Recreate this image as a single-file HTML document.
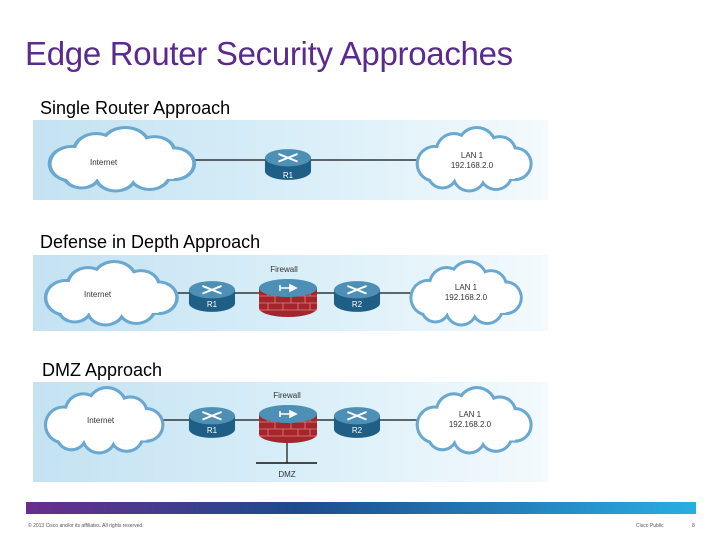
<!DOCTYPE html>
<html><head><meta charset="utf-8"><style>
body{margin:0;width:720px;height:540px;background:#fff;position:relative;overflow:hidden;font-family:"Liberation Sans",sans-serif}
.t{position:absolute;white-space:nowrap}
</style></head><body>
<div class="t" style="left:25px;top:35px;font-size:33px;color:#5b2a8e;letter-spacing:-0.3px">Edge Router Security Approaches</div>
<div class="t" style="left:40px;top:98px;font-size:18px;color:#000">Single Router Approach</div>
<div class="t" style="left:40px;top:232px;font-size:18px;color:#000">Defense in Depth Approach</div>
<div class="t" style="left:42px;top:360px;font-size:18px;color:#000">DMZ Approach</div>
<svg width="720" height="540" style="position:absolute;left:0;top:0" font-family="Liberation Sans, sans-serif">
<defs>
<linearGradient id="bg" x1="0" x2="1"><stop offset="0" stop-color="#c4e2f2"/><stop offset="0.5" stop-color="#d8eef8"/><stop offset="1" stop-color="#f4fafd"/></linearGradient>
<linearGradient id="bar" x1="0" x2="1"><stop offset="0" stop-color="#6a2d8c"/><stop offset="0.4" stop-color="#1e4a8c"/><stop offset="1" stop-color="#29aee2"/></linearGradient>
<symbol id="cloud" viewBox="-5 -5 170 90" preserveAspectRatio="none">
<g fill="#6aa8d0"><circle cx="30" cy="45" r="25"/><circle cx="55" cy="28" r="25"/><circle cx="85" cy="22" r="27"/><circle cx="115" cy="30" r="23"/><circle cx="135" cy="45" r="23"/><circle cx="110" cy="58" r="23"/><circle cx="75" cy="60" r="23"/><circle cx="40" cy="58" r="21"/></g>
<g fill="#fff"><circle cx="30" cy="45" r="21"/><circle cx="55" cy="28" r="21"/><circle cx="85" cy="22" r="23"/><circle cx="115" cy="30" r="19"/><circle cx="135" cy="45" r="19"/><circle cx="110" cy="58" r="19"/><circle cx="75" cy="60" r="19"/><circle cx="40" cy="58" r="17"/><rect x="30" y="30" width="105" height="35"/></g>
</symbol>
<symbol id="router" viewBox="0 0 50 34">
<path d="M1 10 v14 a24 9 0 0 0 48 0 v-14z" fill="#1f5f86"/>
<ellipse cx="25" cy="10" rx="24" ry="9" fill="#4d8fb5"/>
<g stroke="#fff" stroke-width="2" fill="none"><path d="M15 6 L35 14 M15 14 L35 6"/></g>
</symbol>
<symbol id="fw" viewBox="0 0 60 40">
<path d="M1 10 v20 a29 9 0 0 0 58 0 v-20z" fill="#a4262c"/>
<g stroke="#e08080" stroke-width="0.8" fill="none"><path d="M1 18 h58 M1 25 h58 M1 32 h58 M10 10v8 M25 12v6 M40 12v6 M52 10v8 M17 18v7 M33 18v7 M47 18v7 M10 25v7 M25 25v7 M40 25v7 M52 25v7"/></g>
<ellipse cx="30" cy="10" rx="29" ry="9" fill="#4d8fb5"/>
<path d="M22 10 h16 M22 7v6 M38 10 l-6 -3 v6z" stroke="#fff" stroke-width="1.6" fill="#fff"/>
</symbol>
</defs>
<rect x="33" y="120" width="515" height="80" fill="url(#bg)"/>
<rect x="33" y="255" width="515" height="76" fill="url(#bg)"/>
<rect x="33" y="382" width="515" height="100" fill="url(#bg)"/>
<!-- panel 1 -->
<line x1="190" y1="160" x2="420" y2="160" stroke="#111" stroke-width="1.2"/>
<use href="#cloud" x="38" y="126" width="165" height="68"/>
<use href="#cloud" x="408" y="126" width="130" height="68"/>
<use href="#router" x="264" y="148" width="48" height="33"/>
<text x="90" y="165" font-size="8" fill="#333">Internet</text>
<text x="472" y="158" font-size="8" fill="#333" text-anchor="middle">LAN 1</text>
<text x="472" y="168" font-size="8" fill="#333" text-anchor="middle">192.168.2.0</text>
<text x="288" y="178" font-size="8" fill="#fff" text-anchor="middle">R1</text>
<!-- panel 2 -->
<line x1="170" y1="293" x2="415" y2="293" stroke="#111" stroke-width="1.2"/>
<use href="#cloud" x="35" y="260" width="150" height="68"/>
<use href="#cloud" x="402" y="260" width="126" height="68"/>
<use href="#router" x="188" y="280" width="48" height="33"/>
<use href="#router" x="333" y="280" width="48" height="33"/>
<use href="#fw" x="258" y="277" width="60" height="42"/>
<text x="84" y="297" font-size="8" fill="#333">Internet</text>
<text x="466" y="290" font-size="8" fill="#333" text-anchor="middle">LAN 1</text>
<text x="466" y="300" font-size="8" fill="#333" text-anchor="middle">192.168.2.0</text>
<text x="212" y="307" font-size="8" fill="#fff" text-anchor="middle">R1</text>
<text x="357" y="307" font-size="8" fill="#fff" text-anchor="middle">R2</text>
<text x="284" y="272" font-size="8" fill="#333" text-anchor="middle">Firewall</text>
<!-- panel 3 -->
<line x1="160" y1="420" x2="420" y2="420" stroke="#111" stroke-width="1.2"/>
<line x1="287" y1="440" x2="287" y2="463" stroke="#111" stroke-width="1.2"/>
<line x1="256" y1="463" x2="317" y2="463" stroke="#111" stroke-width="1.5"/>
<use href="#cloud" x="36" y="386" width="134" height="70"/>
<use href="#cloud" x="408" y="386" width="130" height="70"/>
<use href="#router" x="188" y="406" width="48" height="33"/>
<use href="#router" x="333" y="406" width="48" height="33"/>
<use href="#fw" x="258" y="403" width="60" height="42"/>
<text x="87" y="423" font-size="8" fill="#333">Internet</text>
<text x="470" y="417" font-size="8" fill="#333" text-anchor="middle">LAN 1</text>
<text x="470" y="427" font-size="8" fill="#333" text-anchor="middle">192.168.2.0</text>
<text x="212" y="433" font-size="8" fill="#fff" text-anchor="middle">R1</text>
<text x="357" y="433" font-size="8" fill="#fff" text-anchor="middle">R2</text>
<text x="287" y="398" font-size="8" fill="#333" text-anchor="middle">Firewall</text>
<text x="287" y="477" font-size="8" fill="#333" text-anchor="middle">DMZ</text>
<rect x="26" y="502" width="670" height="12" fill="url(#bar)"/>
<text x="28" y="527" font-size="5" fill="#555">© 2013 Cisco and/or its affiliates. All rights reserved.</text>
<text x="636" y="527" font-size="5" fill="#555">Cisco Public</text>
<text x="692" y="527" font-size="5" fill="#555">8</text>
</svg>
</body></html>
